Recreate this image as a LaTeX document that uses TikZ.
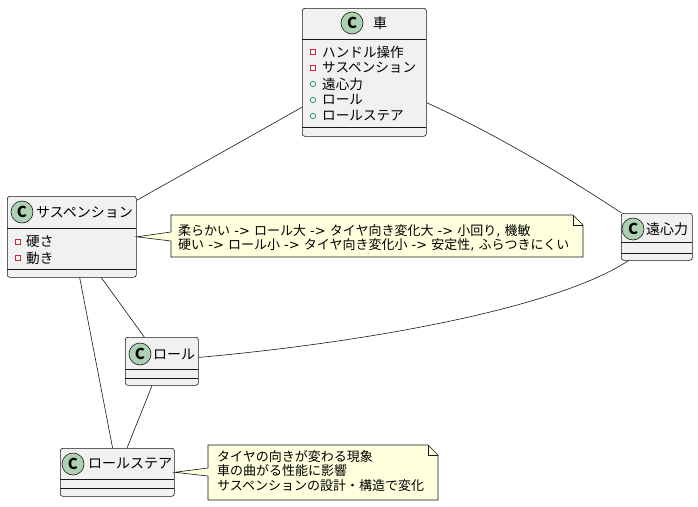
\documentclass[tikz,border=0pt]{standalone}
\usepackage{fontspec}
\setmainfont{Noto Sans CJK JP}
\newfontfamily\latfont{DejaVu Sans}
\newcommand{\lt}[1]{{\latfont #1}}
\definecolor{boxfill}{HTML}{F1F1F1}
\definecolor{linec}{HTML}{181818}
\definecolor{badgec}{HTML}{ADD1B2}
\definecolor{notefill}{HTML}{FEFFDD}
\definecolor{privc}{HTML}{C82930}
\definecolor{pubc}{HTML}{038048}
\begin{document}
\begin{tikzpicture}[x=1pt,y=-1pt,
  classbox/.style={draw=linec, fill=boxfill, rounded corners=2.5pt, line width=0.6pt, inner sep=0pt, anchor=north west},
  sepline/.style={draw=linec, line width=0.6pt},
  badge/.style={circle, draw=linec, fill=badgec, line width=0.6pt, minimum size=22pt, inner sep=0pt, font=\bfseries\fontsize{15}{15}\selectfont},
  hdr/.style={anchor=west, inner sep=0pt, font=\fontsize{14}{14}\selectfont},
  attr/.style={anchor=west, inner sep=0pt, font=\fontsize{13.6}{14}\selectfont},
  privicon/.style={draw=privc, line width=0.6pt, fill=none},
  pubicon/.style={draw=pubc, line width=0.6pt, fill=none},
  conn/.style={draw=linec, line width=0.6pt},
  notebox/.style={draw=linec, fill=notefill, line width=0.6pt},
  notetext/.style={anchor=west, inner sep=0pt, align=left, font=\fontsize{13}{14.5}\selectfont}]
\path[fill=white] (0,0) rectangle (698,506);
\useasboundingbox (0,0) rectangle (698,506);

% ---- class 車
\node[classbox, minimum width=124pt, minimum height=128pt] (car) at (302,8) {};
\draw[sepline] (302,39) -- (426,39);
\draw[sepline] (302,127) -- (426,127);
\node[badge] (carC) at (352,23) {C};
\node[hdr] (carT) at (373,23) {車};
\draw[privicon] (310.5,49.5) rectangle (315.5,54.5);
\draw[privicon] (310.5,65.5) rectangle (315.5,70.5);
\draw[pubicon] (313,84) circle (2.7pt);
\draw[pubicon] (313,100) circle (2.7pt);
\draw[pubicon] (313,116) circle (2.7pt);
\node[attr] (carA1) at (322,52) {ハンドル操作};
\node[attr] (carA2) at (322,68) {サスペンション};
\node[attr] (carA3) at (322,84) {遠心力};
\node[attr] (carA4) at (322,100) {ロール};
\node[attr] (carA5) at (322,116) {ロールステア};

% ---- class サスペンション
\node[classbox, minimum width=129pt, minimum height=81pt] (susp) at (7,196) {};
\draw[sepline] (7,228) -- (136,228);
\draw[sepline] (7,269) -- (136,269);
\node[badge] (suspC) at (22,212) {C};
\node[hdr] (suspT) at (36,212) {サスペンション};
\draw[privicon] (15.5,239.5) rectangle (20.5,244.5);
\draw[privicon] (15.5,255.5) rectangle (20.5,260.5);
\node[attr] (suspA1) at (26,242) {硬さ};
\node[attr] (suspA2) at (26,258) {動き};

% ---- class 遠心力
\node[classbox, minimum width=71pt, minimum height=47pt] (cent) at (621,213) {};
\draw[sepline] (621,242) -- (692,242);
\draw[sepline] (621,253) -- (692,253);
\node[badge] (centC) at (633,229) {C};
\node[hdr] (centT) at (646,229) {遠心力};

% ---- class ロール
\node[classbox, minimum width=73pt, minimum height=48pt] (roll) at (125,337) {};
\draw[sepline] (125,369) -- (198,369);
\draw[sepline] (125,378) -- (198,378);
\node[badge] (rollC) at (140,354) {C};
\node[hdr] (rollT) at (153,354) {ロール};

% ---- class ロールステア
\node[classbox, minimum width=114pt, minimum height=48pt] (rs) at (60,448) {};
\draw[sepline] (60,479) -- (174,479);
\draw[sepline] (60,488) -- (174,488);
\node[badge] (rsC) at (73,464) {C};
\node[hdr] (rsT) at (88,464) {ロールステア};

% ---- connectors
\draw[conn] (car) -- (susp);
\draw[conn] (car.-26) .. controls (487,130) and (555,169) .. (cent.146);
\draw[conn] (cent.-140) .. controls (560,306) and (380,341) .. (roll.6);
\draw[conn] (susp) -- (roll);
\draw[conn] (susp) -- (rs);
\draw[conn] (roll) -- (rs);

% ---- note 1
\coordinate (n1a) at (171,232);
\coordinate (n1b) at (171,241);
\draw[notebox] (171,215) -- (573,215) -- (583,225) -- (583,257) -- (171,257) -- (n1b) -- (susp.east) -- (n1a) -- cycle;
\draw[notebox, fill=none] (573,215) -- (573,225) -- (583,225);
\node[notetext] (n1) at (178,238) {柔らかい\lt{ -> }ロール大\lt{ -> }タイヤ向き変化大\lt{ -> }小回り\lt{, }機敏\\硬い\lt{ -> }ロール小\lt{ -> }タイヤ向き変化小\lt{ -> }安定性\lt{, }ふらつきにくい};

% ---- note 2
\coordinate (n2a) at (208,468);
\coordinate (n2b) at (208,476);
\draw[notebox] (208,445) -- (428,445) -- (438,455) -- (438,500) -- (208,500) -- (n2b) -- (rs.east) -- (n2a) -- cycle;
\draw[notebox, fill=none] (428,445) -- (428,455) -- (438,455);
\node[notetext] (n2) at (217,471) {タイヤの向きが変わる現象\\車の曲がる性能に影響\\サスペンションの設計・構造で変化};
\end{tikzpicture}
\end{document}
